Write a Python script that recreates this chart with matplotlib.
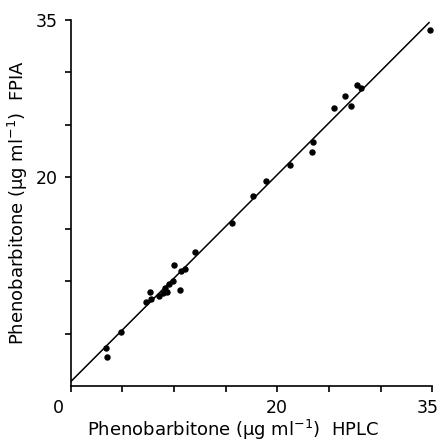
import numpy as np
import matplotlib
matplotlib.use("Agg")
import matplotlib.pyplot as plt
import matplotlib.transforms as mtransforms

# HPLC vs FPIA phenobarbitone values
hplc = [34.8, 27.7, 28.1, 26.6, 27.1, 25.5, 23.5, 23.4, 21.2, 18.9, 17.65,
        15.6, 12.0, 11.1, 10.7, 10.0, 9.9, 9.5, 10.6, 9.3, 9.15, 8.9, 8.6,
        7.7, 7.8, 7.3, 4.86, 3.4, 3.5]
fpia = [34.0, 28.8, 28.5, 27.7, 26.8, 26.6, 23.3, 22.4, 21.1, 19.6, 18.2,
        15.6, 12.8, 11.2, 11.0, 11.6, 10.0, 9.8, 9.2, 9.0, 9.4, 8.85, 8.65,
        9.0, 8.3, 8.0, 5.16, 3.66, 2.8]

# regression line
line_x = [0, 34.7]
intercept = 0.4
slope = 0.99

x_ticks = [0, 5, 10, 15, 20, 25, 30, 35]
x_labels = ["0", "", "", "", "20", "", "", "35"]
y_ticks = [5, 10, 15, 20, 25, 30, 35]
y_labels = ["", "", "", "20", "", "", "35"]

fig = plt.figure(figsize=(4.41, 4.44), dpi=100)
ax = fig.add_axes([0.160, 0.1306, 0.820, 0.8244])

ax.plot(hplc, fpia, "o", color="black", markersize=3.6, clip_on=False)
lx = np.array(line_x)
ax.plot(lx, intercept + slope * lx, color="black", lw=1.1)

ax.set_xlim(0, 35)
ax.set_ylim(0, 35)
for s in ["top", "right"]:
    ax.spines[s].set_visible(False)
for s in ["left", "bottom"]:
    ax.spines[s].set_linewidth(1.2)

ax.set_xticks(x_ticks)
ax.set_xticklabels(x_labels)
ax.set_yticks(y_ticks)
ax.set_yticklabels(y_labels)
ax.tick_params(direction="out", length=4.5, width=1.2, labelsize=12.5, pad=5)

# nudge end labels like the original
def shift(lbl, dx):
    lbl.set_transform(lbl.get_transform() +
                      mtransforms.ScaledTranslation(dx / 100, 0, fig.dpi_scale_trans))

xl = ax.get_xticklabels()
shift(xl[0], -12)
shift(xl[-1], -4)

ax.set_xlabel("Phenobarbitone ($\\mathregular{\\mu}$g ml$^{-1}$)  HPLC", fontsize=13)
ax.xaxis.set_label_coords(0.45, -0.088)
ax.set_ylabel("Phenobarbitone ($\\mathregular{\\mu}$g ml$^{-1}$)  FPIA", fontsize=13, labelpad=4)

fig.savefig("out.png", dpi=100)
